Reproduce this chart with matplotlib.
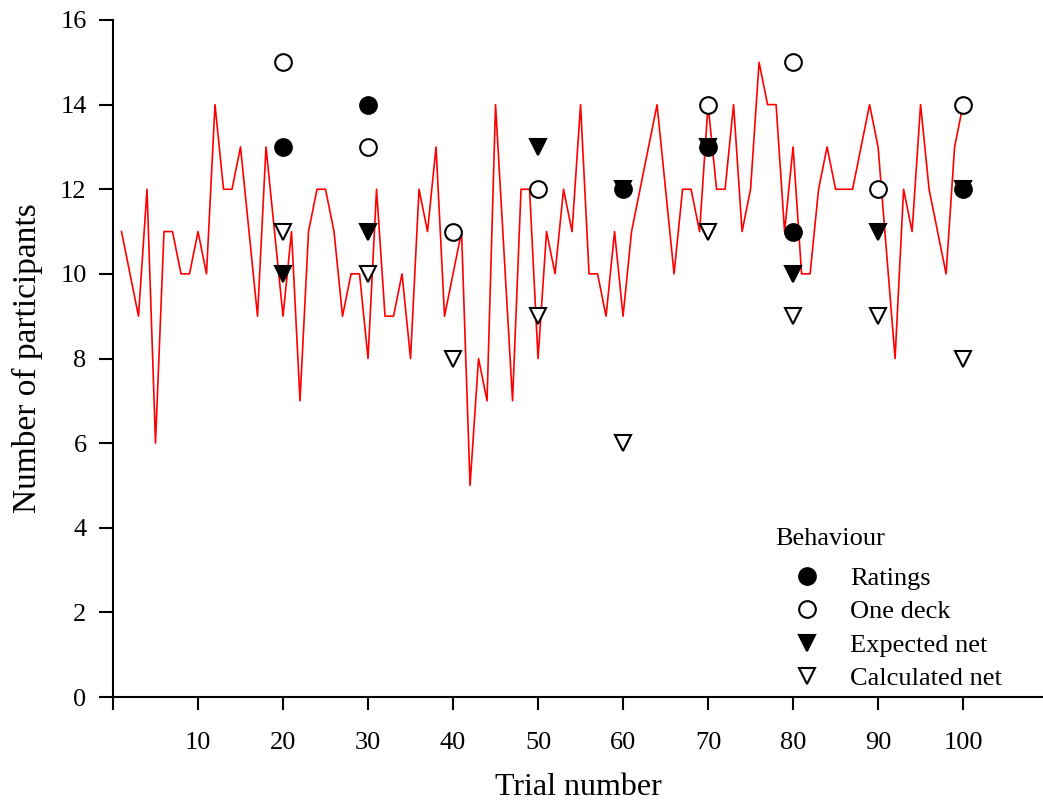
import numpy as np
import matplotlib
matplotlib.use("Agg")
import matplotlib.pyplot as plt
from matplotlib.lines import Line2D

plt.rcParams['font.family'] = ['Liberation Serif', 'DejaVu Serif']

# Participants choosing per trial (trials 1-100); nan = no value recorded
trials = np.arange(1, 101)
counts = [
    11, 10, 9, 12, 6, 11, 11, 10, 10, 11,
    10, 14, 12, 12, 13, 11, 9, 13, 11, 9,
    11, 7, 11, 12, 12, 11, 9, 10, 10, 8,
    12, 9, 9, 10, 8, 12, 11, 13, 9, 10,
    11, 5, 8, 7, 14, np.nan, 7, 12, 12, 8,
    11, 10, 12, 11, 14, 10, 10, 9, 11, 9,
    11, 12, 13, 14, 12, 10, 12, 12, 11, 14,
    12, 12, 14, 11, 12, 15, 14, 14, 11, 13,
    10, 10, 12, 13, 12, 12, 12, 13, 14, 13,
    np.nan, 8, 12, 11, 14, 12, 11, 10, 13, 14,
]

# Behaviour-based counts at every tenth trial
checkpoints = [20, 30, 40, 50, 60, 70, 80, 90, 100]
ratings = [13, 14, np.nan, np.nan, 12, 13, 11, np.nan, 12]
one_deck = [15, 13, 11, 12, np.nan, 14, 15, 12, 14]
expected_net = [10, 11, np.nan, 13, 12, 13, 10, 11, 12]
calculated_net = [11, 10, 8, 9, 6, 11, 9, 9, 8]

fig = plt.figure(figsize=(10.43, 8.06), dpi=100)
ax = fig.add_axes([113 / 1043, 1 - 697 / 806, 1 - 113 / 1043, (697 - 20) / 806])

counts_arr = np.array(counts, dtype=float)
ok = np.isfinite(counts_arr)
ax.plot(trials[ok], counts_arr[ok], color='red', lw=1.2, zorder=2)

ms = 12
mew = 1.5
ax.plot(checkpoints, expected_net, 'v', ms=ms, mfc='black', mec='black', mew=mew,
        ls='none', zorder=3)
ax.plot(checkpoints, ratings, 'o', ms=ms, mfc='black', mec='black', mew=mew,
        ls='none', zorder=4)
ax.plot(checkpoints, one_deck, 'o', ms=ms, mfc='white', mec='black', mew=mew,
        ls='none', zorder=5)
ax.plot(checkpoints, calculated_net, 'v', ms=ms, mfc='white', mec='black', mew=mew,
        ls='none', zorder=6)

ax.set_xlim(0, 109.4)
ax.set_ylim(0, 16)
ax.set_xticks(np.arange(0, 101, 10))
ax.set_xticklabels([''] + [str(v) for v in range(10, 101, 10)])
ax.set_yticks(np.arange(0, 17, 2))

for side in ('top', 'right'):
    ax.spines[side].set_visible(False)
for side in ('left', 'bottom'):
    ax.spines[side].set_linewidth(1.5)

ax.tick_params(axis='x', direction='out', length=9, width=1.5, pad=16, labelsize=19)
ax.tick_params(axis='y', direction='out', length=10, width=1.5, pad=9, labelsize=19)

ax.set_xlabel('Trial number', fontsize=23, labelpad=14)
ax.set_ylabel('Number of participants', fontsize=24, labelpad=12)

handles = [
    Line2D([], [], marker='o', ls='none', ms=12, mfc='black', mec='black', mew=mew),
    Line2D([], [], marker='o', ls='none', ms=12, mfc='white', mec='black', mew=mew),
    Line2D([], [], marker='v', ls='none', ms=12, mfc='black', mec='black', mew=mew),
    Line2D([], [], marker='v', ls='none', ms=12, mfc='white', mec='black', mew=mew),
]
labels = ['Ratings', 'One deck', 'Expected net', 'Calculated net']
leg = ax.legend(handles, labels, title='Behaviour', loc='upper left',
                bbox_to_anchor=(0.712, 0.250), frameon=False, fontsize=19,
                title_fontsize=19, alignment='left', handlelength=2.4,
                handletextpad=0.45, labelspacing=0.38, borderaxespad=0,
                borderpad=0)
leg._legend_box.sep = 12

fig.savefig('out.png', dpi=100)
